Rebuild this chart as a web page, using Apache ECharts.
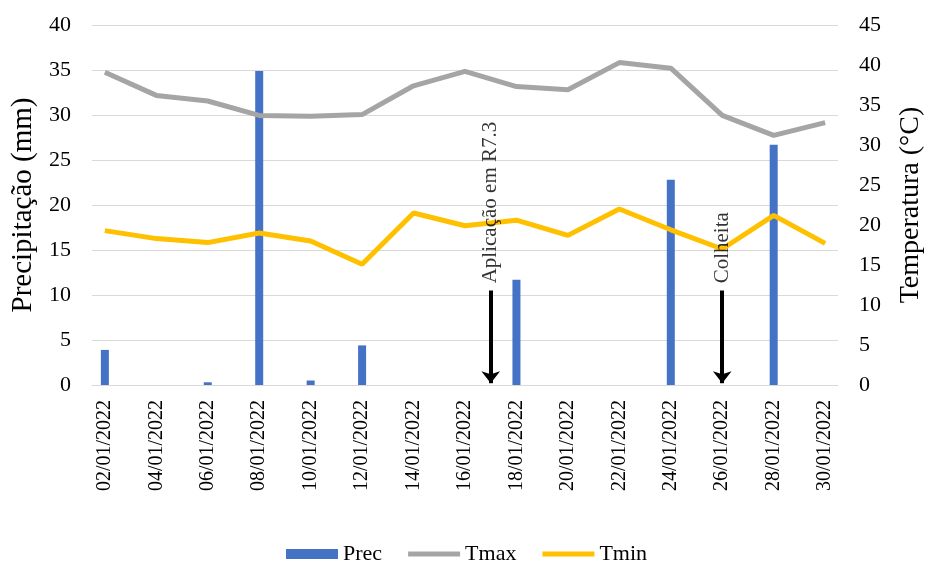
<!DOCTYPE html>
<html>
<head>
<meta charset="utf-8">
<script src="https://cdn.jsdelivr.net/npm/echarts@6/dist/echarts.min.js"></script>
<style>
  html, body { margin: 0; padding: 0; background: #fff; }
  #chart { width: 928px; height: 563px; }
</style>
</head>
<body>
<div id="chart"></div>
<script>
// dias (eixo de categorias, diario)
var dias = ['02/01/2022','03/01/2022','04/01/2022','05/01/2022','06/01/2022','07/01/2022','08/01/2022',
  '09/01/2022','10/01/2022','11/01/2022','12/01/2022','13/01/2022','14/01/2022','15/01/2022','16/01/2022',
  '17/01/2022','18/01/2022','19/01/2022','20/01/2022','21/01/2022','22/01/2022','23/01/2022','24/01/2022',
  '25/01/2022','26/01/2022','27/01/2022','28/01/2022','29/01/2022','30/01/2022'];

// datas com leitura (a cada 2 dias)
var datasLeitura = ['02/01/2022','04/01/2022','06/01/2022','08/01/2022','10/01/2022','12/01/2022','14/01/2022',
  '16/01/2022','18/01/2022','20/01/2022','22/01/2022','24/01/2022','26/01/2022','28/01/2022','30/01/2022'];
var prec = [3.9, 0, 0.3, 34.9, 0.5, 4.4, 0, 0, 11.7, 0, 0, 22.8, 0, 26.7, 0];
var tmax = [39.1, 36.2, 35.5, 33.7, 33.6, 33.8, 37.4, 39.2, 37.3, 36.9, 40.3, 39.6, 33.7, 31.2, 32.8];
var tmin = [19.3, 18.3, 17.8, 19.0, 18.0, 15.1, 21.5, 19.9, 20.6, 18.7, 22.0, 19.4, 17.0, 21.2, 17.7];

// anotacoes (setas)
var notasDatas = ['17/01/2022', '26/01/2022'];
var notasTexto = ['Aplicação em R7.3', 'Colheita'];
var setaTopo = 10.5;
var setaBase = 0.2;
var textoBase = 11.3;

function porDia(vals) {
  return dias.map(function (d) {
    var i = datasLeitura.indexOf(d);
    return i >= 0 ? vals[i] : null;
  });
}

var fonte = "'Liberation Serif', 'Times New Roman', serif";
var iconeLinha = 'path://M0,0H52V5H0Z';

var myChart = echarts.init(document.getElementById('chart'));
var option = {
  animation: false,
  textStyle: { fontFamily: fonte, color: '#000' },
  grid: { left: 92, right: 90, top: 25, bottom: 178, containLabel: false, outerBoundsMode: 'none' },
  legend: {
    data: [
      { name: 'Prec', icon: 'rect' },
      { name: 'Tmax', icon: iconeLinha },
      { name: 'Tmin', icon: iconeLinha }
    ],
    top: 538,
    left: 281,
    itemWidth: 52,
    itemHeight: 10,
    itemGap: 26,
    textStyle: { fontFamily: fonte, fontSize: 22, color: '#000' }
  },
  xAxis: {
    type: 'category',
    data: dias,
    boundaryGap: true,
    axisLine: { lineStyle: { color: '#d9d9d9', width: 1 } },
    axisTick: { interval: 1, length: 6, lineStyle: { color: '#d9d9d9' } },
    axisLabel: { interval: 1, rotate: 90, fontSize: 20, color: '#000', fontFamily: fonte, margin: 15 },
    splitLine: { show: false }
  },
  yAxis: [
    {
      type: 'value',
      min: 0, max: 40, interval: 5,
      name: 'Precipitação (mm)',
      nameLocation: 'middle',
      nameRotate: 90,
      nameGap: 53,
      nameTextStyle: { fontSize: 29, fontFamily: fonte, color: '#000' },
      axisLine: { show: false },
      axisTick: { show: false },
      axisLabel: { fontSize: 22, color: '#000', fontFamily: fonte, margin: 21 },
      splitLine: { lineStyle: { color: '#d9d9d9', width: 1 } }
    },
    {
      type: 'value',
      min: 0, max: 45, interval: 5,
      position: 'right',
      name: 'Temperatura (°C)',
      nameLocation: 'middle',
      nameRotate: 90,
      nameGap: 59,
      nameTextStyle: { fontSize: 28, fontFamily: fonte, color: '#000' },
      axisLine: { show: false },
      axisTick: { show: false },
      axisLabel: { fontSize: 22, color: '#000', fontFamily: fonte, margin: 21 },
      splitLine: { show: false }
    }
  ],
  series: [
    {
      name: 'Prec',
      type: 'bar',
      yAxisIndex: 0,
      barWidth: 8,
      itemStyle: { color: '#4472c4' },
      data: porDia(prec),
      markLine: {
        silent: true,
        symbol: ['none', 'arrow'],
        symbolSize: [14, 12],
        label: { show: false },
        lineStyle: { color: '#000', width: 4, type: 'solid' },
        data: notasDatas.map(function (d) {
          return [{ coord: [d, setaTopo] }, { coord: [d, setaBase] }];
        })
      }
    },
    {
      name: 'Tmax',
      type: 'line',
      yAxisIndex: 1,
      connectNulls: true,
      symbol: 'none',
      lineStyle: { color: '#a5a5a5', width: 5 },
      itemStyle: { color: '#a5a5a5' },
      data: porDia(tmax)
    },
    {
      name: 'Tmin',
      type: 'line',
      yAxisIndex: 1,
      connectNulls: true,
      symbol: 'none',
      lineStyle: { color: '#ffc000', width: 5 },
      itemStyle: { color: '#ffc000' },
      data: porDia(tmin)
    },
    {
      name: 'notas',
      type: 'scatter',
      yAxisIndex: 0,
      symbolSize: 0,
      silent: true,
      z: 10,
      label: {
        show: true,
        position: 'inside',
        rotate: 90,
        align: 'left',
        verticalAlign: 'middle',
        fontSize: 21,
        fontFamily: fonte,
        color: '#000',
        formatter: function (p) { return notasTexto[p.dataIndex]; }
      },
      data: notasDatas.map(function (d) { return [d, textoBase]; })
    }
  ]
};
myChart.setOption(option);
</script>
</body>
</html>
